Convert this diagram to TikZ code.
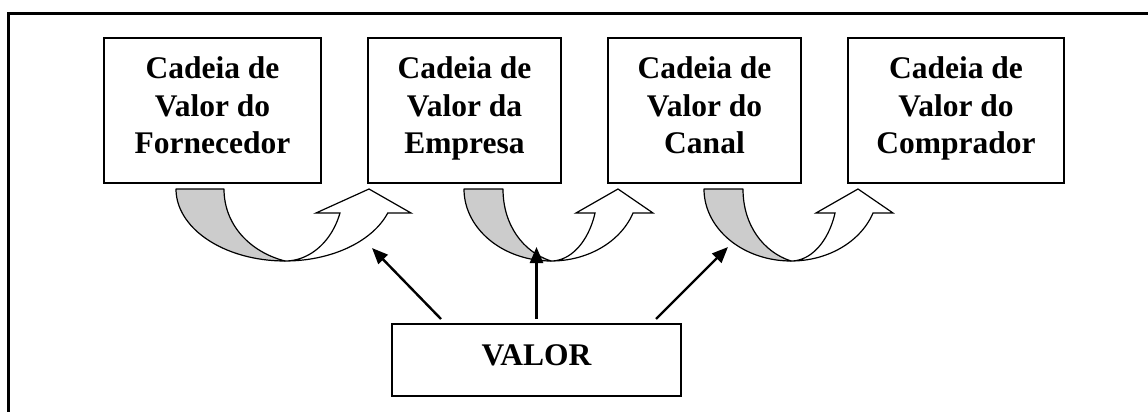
\documentclass[tikz,border=0pt]{standalone}
\usepackage{fontspec}
\setmainfont{Liberation Serif}
\usetikzlibrary{arrows.meta,calc}
\definecolor{backgray}{RGB}{204,204,204}
\newcommand\cupArrow[8]{%
  \filldraw[backband] (#1,189) -- (#2,189) .. controls (#2,225) and ({#3-0.32*#4},252) .. (#3,261)
    -- plot[domain=90:180,samples=40] ({#3+#4*cos(\x)},{189+72*sin(\x)}) -- cycle;
  \filldraw[frontband] plot[domain=90:19.47,samples=40] ({#3+#4*cos(\x)},{189+72*sin(\x)})
    -- (#7,213) -- (#8,189) -- (#6,213)
    -- plot[domain=19.47:90,samples=40] ({#3+#5*cos(\x)},{189+72*sin(\x)}) -- cycle;
}
\begin{document}
\begin{tikzpicture}[x=1pt,y=-1pt,
  box/.style={draw=black, line width=1.3pt, minimum width=#1, minimum height=145pt, inner sep=0pt},
  btext/.style={font=\bfseries\fontsize{31.5}{37.5}\selectfont, align=center, inner sep=0pt, anchor=north},
  backband/.style={fill=backgray, draw=black, line width=1.2pt, line join=round},
  frontband/.style={fill=white, draw=black, line width=1.2pt, line join=miter},
  pointer/.style={draw=black, line width=2.4pt, -{Triangle[length=16pt,width=13pt]}}]
\useasboundingbox (0,0) rectangle (1148,412);
\clip (0,0) rectangle (1148,412);
\fill[white] (0,0) rectangle (1148,412);
% outer frame (only left and top edges visible)
\draw[line width=3.3pt] (8.5,440) |- (1170,13.3);

% value chain boxes
\node[box=217pt] (b1) at (212.5,110.5) {};
\node[box=193pt] (b2) at (464.5,110.5) {};
\node[box=193pt] (b3) at (704.5,110.5) {};
\node[box=216pt] (b4) at (956,110.5) {};
\node[btext] (t1) at ($(b1.north)+(0,19.5)$) {Cadeia de\\Valor do\\Fornecedor};
\node[btext] (t2) at ($(b2.north)+(0,19.5)$) {Cadeia de\\Valor da\\Empresa};
\node[btext] (t3) at ($(b3.north)+(0,19.5)$) {Cadeia de\\Valor do\\Canal};
\node[btext] (t4) at ($(b4.north)+(0,19.5)$) {Cadeia de\\Valor do\\Comprador};

% curved up arrows
\cupArrow{176}{224}{285}{109}{58.3}{316}{411}{369}
\cupArrow{464}{503}{551}{87}{46.7}{576}{653}{618}
\cupArrow{704}{743}{791}{87}{46.7}{816}{893}{858}

% VALOR box
\node[draw=black, line width=1.3pt, minimum width=289pt, minimum height=72pt, inner sep=0pt] (v) at (536.5,360) {};
\node[btext] (tv) at ($(v.north)+(0,21)$) {VALOR};

% pointers
\coordinate (s1) at (441,319);
\coordinate (s2) at (536.5,319);
\coordinate (s3) at (656,319);
\coordinate (e1) at (372,248);
\coordinate (e2) at (536.5,247);
\coordinate (e3) at (728,247);
\draw[pointer] (s1) -- (e1);
\draw[pointer] (s2) -- (e2);
\draw[pointer] (s3) -- (e3);
\end{tikzpicture}
\end{document}
